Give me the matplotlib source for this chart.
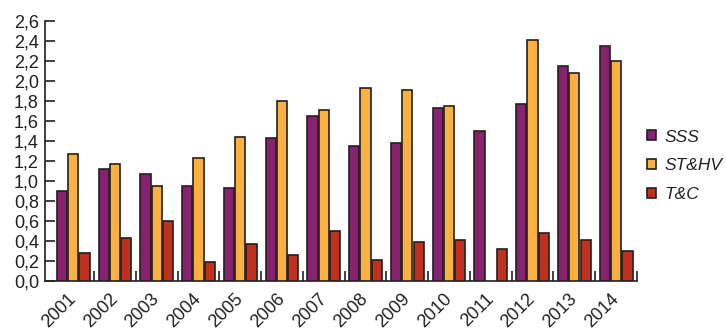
import matplotlib
matplotlib.use("Agg")
import matplotlib.pyplot as plt
import numpy as np
from matplotlib.ticker import FixedLocator, FuncFormatter

years = ["2001", "2002", "2003", "2004", "2005", "2006", "2007",
         "2008", "2009", "2010", "2011", "2012", "2013", "2014"]
sss = [0.90, 1.12, 1.07, 0.95, 0.93, 1.43, 1.65, 1.35, 1.38, 1.73, 1.50, 1.77, 2.15, 2.35]
sthv = [1.27, 1.17, 0.95, 1.23, 1.44, 1.80, 1.71, 1.93, 1.91, 1.75, 0.0, 2.41, 2.08, 2.20]
tc = [0.28, 0.43, 0.60, 0.19, 0.37, 0.26, 0.50, 0.21, 0.39, 0.41, 0.32, 0.48, 0.41, 0.30]
series_names = ["SSS", "ST&HV", "T&C"]
colors = ["#862270", "#FBB040", "#C0301F"]
edge = "#231F20"
text_c = "#231F20"

plt.rcParams['font.family'] = ['Liberation Sans', 'DejaVu Sans']

fig = plt.figure(figsize=(7.26, 3.34), dpi=100)
ax = fig.add_axes([44.5 / 726, 53 / 334, (637 - 44.5) / 726, 260 / 334])

x = np.arange(len(years))
w = 0.245
off = 0.27
for k, (vals, name, c) in enumerate(zip([sss, sthv, tc], series_names, colors)):
    xs = x + (k - 1) * off
    vv = np.array(vals)
    mask = vv > 0
    ax.bar(xs[mask], vv[mask], width=w, color=c, edgecolor=edge, linewidth=1.2,
           label=name, zorder=3)

ax.set_xlim(-0.69, 13.5)
ax.set_ylim(0, 2.6)
ax.set_yticks(np.arange(0, 2.61, 0.2))
ax.yaxis.set_major_formatter(FuncFormatter(lambda v, p: f"{v:.1f}".replace(".", ",")))
ax.tick_params(axis='y', direction='in', length=7, width=1.2, color=edge,
               labelsize=13, labelcolor=text_c, pad=4)

ax.set_xticks(x)
ax.set_xticklabels(years, rotation=45, ha='right', va='center', rotation_mode='anchor',
                   fontsize=13, color=text_c)
ax.tick_params(axis='x', which='major', length=0, pad=11)
ax.xaxis.set_minor_locator(FixedLocator(np.arange(0.5, 13.6, 1.0)))
ax.tick_params(axis='x', which='minor', direction='in', length=7, width=1.2, color=edge)

for s in ['top', 'right']:
    ax.spines[s].set_visible(False)
for s in ['left', 'bottom']:
    ax.spines[s].set_color(edge)
    ax.spines[s].set_linewidth(1.2)

handles, labels = ax.get_legend_handles_labels()
leg = fig.legend(handles, labels, loc='center left',
                 bbox_to_anchor=(647 / 726, (334 - 166) / 334), frameon=False,
                 borderpad=0, borderaxespad=0,
                 handlelength=0.5, handleheight=0.5, handletextpad=0.5,
                 labelspacing=0.8, prop={'style': 'italic', 'size': 12.5})
for t in leg.get_texts():
    t.set_color(text_c)

fig.savefig("out.png", dpi=100)
